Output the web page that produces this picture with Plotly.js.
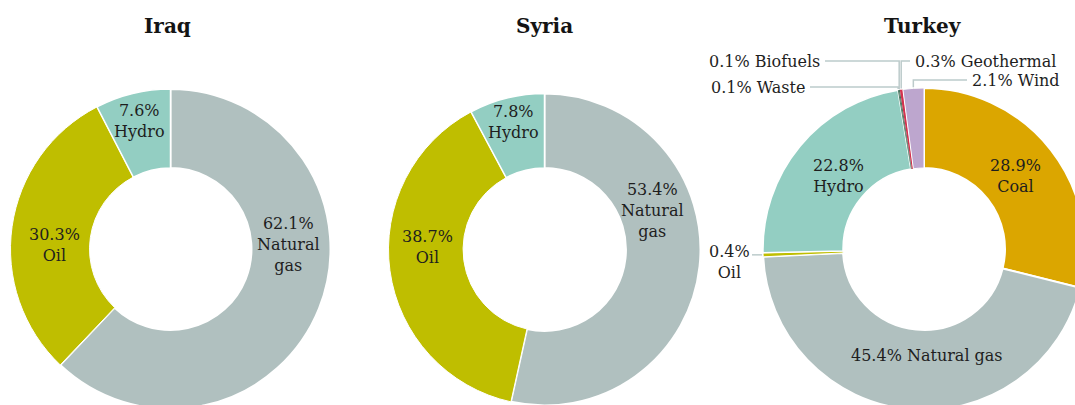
<!DOCTYPE html>
<html>
<head>
<meta charset="utf-8">
<script src="https://cdn.plot.ly/plotly-3.0.1.min.js"></script>
<style>
html,body{margin:0;padding:0;overflow:hidden;background:#fff;width:1075px;height:405px;}
#chart{width:1100px;height:420px;}
</style>
</head>
<body>
<div id="chart"></div>
<script>
// ---- Data ----
var countries = ['Iraq', 'Syria', 'Turkey'];

var iraqSources = ['Natural gas', 'Oil', 'Hydro'];
var iraqValues  = [62.1, 30.3, 7.6];

var syriaSources = ['Natural gas', 'Oil', 'Hydro'];
var syriaValues  = [53.4, 38.7, 7.8];

var turkeySources = ['Coal', 'Natural gas', 'Oil', 'Hydro', 'Waste', 'Biofuels', 'Geothermal', 'Wind'];
var turkeyValues  = [28.9, 45.4, 0.4, 22.8, 0.1, 0.1, 0.3, 2.1];

// ---- Styles ----
var colors = {
  'Natural gas': '#B0C0BF',
  'Oil': '#BFBE00',
  'Hydro': '#93CEC2',
  'Coal': '#DBA600',
  'Waste': '#4E7A64',
  'Biofuels': '#3E6B55',
  'Geothermal': '#D2334F',
  'Wind': '#BDA6CE'
};
var borderWidth = {
  'Natural gas': 2, 'Oil': 1, 'Hydro': 1.5, 'Coal': 2,
  'Waste': 0, 'Biofuels': 0, 'Geothermal': 0, 'Wind': 1
};

var W = 1100, H = 420;
function px(x){ return x / W; }
function py(y){ return 1 - y / H; }

// pie geometry in pixels (center, radius, hole)
var pies = {
  'Iraq':   {cx: 170.5, cy: 249, r: 160, hole: 0.506},
  'Syria':  {cx: 544.5, cy: 249.5, r: 156, hole: 0.522},
  'Turkey': {cx: 924,   cy: 249, r: 161, hole: 0.503}
};

var fontFam = '"DejaVu Serif", "Liberation Serif", serif';
var txtColor = '#1e1e1e';
var leaderColor = '#BCCBCB';

function makePie(name, sources, values){
  var g = pies[name];
  return {
    type: 'pie',
    name: name,
    labels: sources,
    values: values,
    sort: false,
    direction: 'clockwise',
    rotation: 0,
    hole: g.hole,
    textinfo: 'none',
    hoverinfo: 'label+percent',
    showlegend: false,
    marker: {
      colors: sources.map(function(s){return colors[s];}),
      line: {color: '#ffffff', width: sources.map(function(s){return borderWidth[s];})}
    },
    domain: {
      x: [px(g.cx - g.r), px(g.cx + g.r)],
      y: [py(g.cy + g.r), py(g.cy - g.r)]
    }
  };
}

var data = [
  makePie('Iraq', iraqSources, iraqValues),
  makePie('Syria', syriaSources, syriaValues),
  makePie('Turkey', turkeySources, turkeyValues)
];

// inside label placement (pixel centres) and line-broken names
var inside = {
  'Iraq': {
    'Natural gas': {x: 288, y: 244, t: 'Natural<br>gas'},
    'Oil': {x: 54, y: 245, t: 'Oil'},
    'Hydro': {x: 140, y: 121, t: 'Hydro'}
  },
  'Syria': {
    'Natural gas': {x: 652, y: 210, t: 'Natural<br>gas'},
    'Oil': {x: 427, y: 247, t: 'Oil'},
    'Hydro': {x: 513, y: 122, t: 'Hydro'}
  },
  'Turkey': {
    'Coal': {x: 1015, y: 176, t: 'Coal'},
    'Natural gas': {x: 927, y: 355, t: 'Natural gas', sep: ' '},
    'Hydro': {x: 838, y: 176, t: 'Hydro'}
  }
};

// outside labels for Turkey small slices
var outside = {
  'Oil':        {x: 729, y: 262, anchor: 'center', lineStart: 752},
  'Waste':      {x: 807, y: 87, anchor: 'right'},
  'Biofuels':   {x: 822, y: 61, anchor: 'right'},
  'Geothermal': {x: 913, y: 61, anchor: 'left'},
  'Wind':       {x: 970, y: 80, anchor: 'left'}
};

function pct(v){ return v.toFixed(1) + '%'; }

var annotations = [];
var shapes = [];

// titles
var titlePos = {'Iraq': 167, 'Syria': 544, 'Turkey': 923};
countries.forEach(function(c){
  annotations.push({
    xref: 'paper', yref: 'paper', x: px(titlePos[c]), y: py(26),
    xanchor: 'center', yanchor: 'middle', showarrow: false,
    text: '<b>' + c + '</b>',
    font: {family: fontFam, size: 20, color: '#141414'}
  });
});

var series = {'Iraq': [iraqSources, iraqValues], 'Syria': [syriaSources, syriaValues], 'Turkey': [turkeySources, turkeyValues]};

countries.forEach(function(c){
  var src = series[c][0], vals = series[c][1];
  var g = pies[c];
  var total = vals.reduce(function(a,b){return a+b;}, 0);
  var cum = 0;
  src.forEach(function(s, i){
    var v = vals[i];
    var mid = (cum + v/2) / total * 2 * Math.PI;
    cum += v;
    var ex = g.cx + (g.r + 1) * Math.sin(mid);
    var ey = g.cy - (g.r + 1) * Math.cos(mid);
    var ins = inside[c][s];
    if (ins) {
      annotations.push({
        xref: 'paper', yref: 'paper', x: px(ins.x), y: py(ins.y),
        xanchor: 'center', yanchor: 'middle', showarrow: false, align: 'center',
        text: pct(v) + (ins.sep || '<br>') + ins.t,
        font: {family: fontFam, size: 16, color: txtColor}
      });
    } else if (c === 'Turkey' && outside[s]) {
      var o = outside[s];
      if (s === 'Oil') {
        annotations.push({
          xref: 'paper', yref: 'paper', x: px(o.x), y: py(o.y),
          xanchor: 'center', yanchor: 'middle', showarrow: false, align: 'center',
          text: pct(v) + '<br>' + s,
          font: {family: fontFam, size: 16, color: txtColor}
        });
        shapes.push({type: 'line', xref: 'paper', yref: 'paper',
          x0: px(o.lineStart), y0: py(ey), x1: px(ex), y1: py(ey),
          line: {color: leaderColor, width: 1.5}});
      } else {
        annotations.push({
          xref: 'paper', yref: 'paper', x: px(o.x), y: py(o.y),
          xanchor: o.anchor, yanchor: 'middle', showarrow: false,
          text: pct(v) + ' ' + s,
          font: {family: fontFam, size: 16, color: txtColor}
        });
        var tx = o.anchor === 'right' ? o.x + 3 : o.x - 3;
        shapes.push({type: 'path', xref: 'paper', yref: 'paper',
          path: 'M ' + px(tx) + ' ' + py(o.y) + ' L ' + px(ex) + ' ' + py(o.y) + ' L ' + px(ex) + ' ' + py(ey),
          line: {color: leaderColor, width: 1.5}});
      }
    }
  });
});

var layout = {
  width: W, height: H,
  margin: {l: 0, r: 0, t: 0, b: 0, pad: 0},
  paper_bgcolor: '#ffffff',
  plot_bgcolor: '#ffffff',
  showlegend: false,
  font: {family: fontFam, size: 16, color: txtColor},
  annotations: annotations,
  shapes: shapes
};

Plotly.newPlot('chart', data, layout, {displayModeBar: false, staticPlot: true});
</script>
</body>
</html>
